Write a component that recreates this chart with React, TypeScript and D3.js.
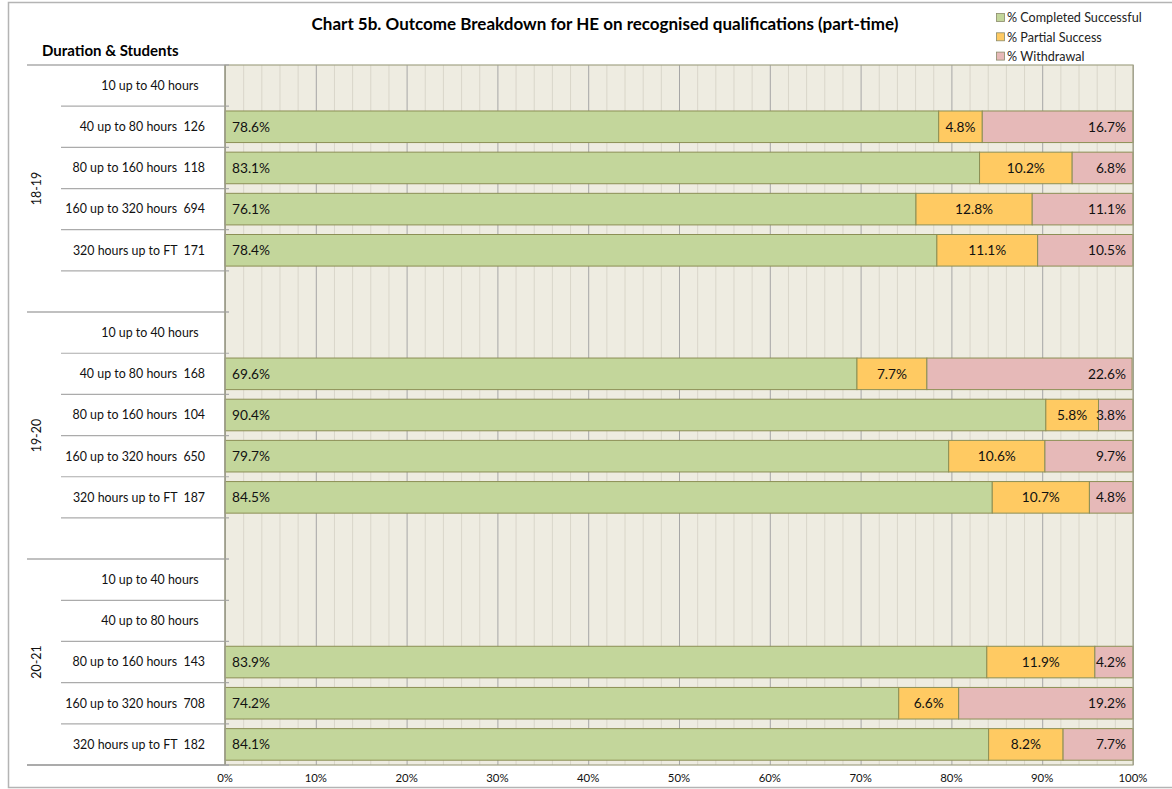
import * as d3 from "d3";
import { useEffect, useRef } from "react";

const groups = ["18-19", "19-20", "20-21"];
const durations = [
  "10 up to 40 hours",
  "40 up to 80 hours",
  "80 up to 160 hours",
  "160 up to 320 hours",
  "320 hours up to FT",
];
// student counts per group, in duration order (null = no learners)
const students = [
  [null, 126, 118, 694, 171],
  [null, 168, 104, 650, 187],
  [null, null, 143, 708, 182],
];
const completed = [
  [null, 78.6, 83.1, 76.1, 78.4],
  [null, 69.6, 90.4, 79.7, 84.5],
  [null, null, 83.9, 74.2, 84.1],
];
const partial = [
  [null, 4.8, 10.2, 12.8, 11.1],
  [null, 7.7, 5.8, 10.6, 10.7],
  [null, null, 11.9, 6.6, 8.2],
];
const withdrawal = [
  [null, 16.7, 6.8, 11.1, 10.5],
  [null, 22.6, 3.8, 9.7, 4.8],
  [null, null, 4.2, 19.2, 7.7],
];
const seriesNames = ["% Completed Successful", "% Partial Success", "% Withdrawal"];
const seriesColors = ["#C3D69B", "#FFCA62", "#E6B9B8"];
const xTicks = [0, 10, 20, 30, 40, 50, 60, 70, 80, 90, 100];

const FONT = "Lato, 'Open Sans', sans-serif";

const App = () => {
  const ref = useRef(null);

  useEffect(() => {
    const svg = d3.select(ref.current);
    svg.selectAll("*").remove();

    const W = 1172, H = 789;
    const left = 225, right = 1133, top = 65, bottom = 765;

    // build rows, with a blank spacer row between groups
    const rows = [];
    groups.forEach((g, gi) => {
      durations.forEach((d, di) => {
        const n = students[gi][di];
        rows.push({
          key: `${gi}-${di}`,
          group: gi,
          label: `${d}  ${n == null ? "" : n}`,
          vals: [completed[gi][di], partial[gi][di], withdrawal[gi][di]],
        });
      });
      if (gi < groups.length - 1) rows.push({ key: `gap${gi}`, group: gi, gap: true });
    });

    const pad = 0.233;
    const y = d3.scaleBand()
      .domain(rows.map(r => r.key))
      .range([top, bottom])
      .paddingInner(pad)
      .paddingOuter(pad / 2);
    const step = y.step();
    const x = d3.scaleLinear().domain([0, 100]).range([left, right]);

    svg.append("rect")
      .attr("x", 0).attr("y", 0).attr("width", W).attr("height", H)
      .attr("fill", "#fff");
    svg.append("rect")
      .attr("x", 8.5).attr("y", 2.5).attr("width", W).attr("height", 785)
      .attr("fill", "none").attr("stroke", "#b4b4b4").attr("stroke-width", 1.5);

    // title
    svg.append("text")
      .attr("x", 605).attr("y", 30)
      .attr("text-anchor", "middle")
      .attr("font-family", FONT).attr("font-weight", "bold").attr("font-size", 17)
      .text("Chart 5b. Outcome Breakdown for HE on recognised qualifications (part-time)");

    svg.append("text")
      .attr("x", 42).attr("y", 55.5)
      .attr("font-family", FONT).attr("font-weight", "bold").attr("font-size", 15)
      .text("Duration & Students");

    // legend
    const lg = svg.append("g");
    seriesNames.forEach((name, i) => {
      const ly = 18 + i * 19.3;
      lg.append("rect")
        .attr("x", 996.5).attr("y", ly - 4.5).attr("width", 8).attr("height", 8)
        .attr("fill", seriesColors[i]).attr("stroke", "#8a8a6a").attr("stroke-width", 0.8);
      lg.append("text")
        .attr("x", 1007).attr("y", ly)
        .attr("dy", "0.35em")
        .attr("font-family", FONT).attr("font-size", 12.6).attr("fill", "#222")
        .text(name);
    });

    // plot background + grid
    svg.append("rect")
      .attr("x", left).attr("y", top).attr("width", right - left).attr("height", bottom - top)
      .attr("fill", "#EEECE1");
    const minor = d3.range(0, 101, 2).filter(v => v % 10 !== 0);
    svg.append("g").selectAll("line").data(minor).enter().append("line")
      .attr("x1", d => x(d) + 0.5).attr("x2", d => x(d) + 0.5)
      .attr("y1", top).attr("y2", bottom)
      .attr("stroke", "#D9D6CA").attr("stroke-width", 1);
    svg.append("g").selectAll("line").data(xTicks).enter().append("line")
      .attr("x1", d => x(d) + 0.5).attr("x2", d => x(d) + 0.5)
      .attr("y1", top).attr("y2", bottom)
      .attr("stroke", "#A6A6A6").attr("stroke-width", 1);

    // bars
    const stack = rows.filter(r => !r.gap && r.vals[0] != null);
    const barG = svg.append("g");
    const labelG = svg.append("g")
      .attr("font-family", FONT).attr("font-size", 13.7).attr("fill", "#111");
    stack.forEach(r => {
      let acc = 0;
      const by = y(r.key);
      r.vals.forEach((v, i) => {
        const x0 = x(acc);
        const x1 = Math.min(x(acc + v), right);
        barG.append("rect")
          .attr("x", x0).attr("y", by)
          .attr("width", x1 - x0).attr("height", y.bandwidth())
          .attr("fill", seriesColors[i])
          .attr("stroke", "#8C8F55").attr("stroke-width", 1);
        const t = labelG.append("text")
          .attr("y", by + y.bandwidth() / 2)
          .attr("dy", "0.36em")
          .text(`${v.toFixed(1)}%`);
        if (i === 0) t.attr("x", x0 + 7).attr("text-anchor", "start");
        else if (i === 1) t.attr("x", (x0 + x1) / 2).attr("text-anchor", "middle");
        else t.attr("x", right - 7).attr("text-anchor", "end");
        acc += v;
      });
    });

    // plot border
    svg.append("rect")
      .attr("x", left).attr("y", top).attr("width", right - left).attr("height", bottom - top)
      .attr("fill", "none").attr("stroke", "#A3A486").attr("stroke-width", 1.2);

    // category axis: separators and labels
    const axisG = svg.append("g").attr("stroke", "#ABABAB");
    rows.forEach((r, i) => {
      const yb = y(r.key) - step * pad / 2;
      const groupStart = i === 0 || rows[i - 1].gap;
      axisG.append("line")
        .attr("x1", groupStart ? 27 : 61).attr("x2", 229)
        .attr("y1", yb).attr("y2", yb)
        .attr("stroke-width", groupStart ? 1.5 : 1.2);
    });
    axisG.append("line")
      .attr("x1", 27).attr("x2", 229).attr("y1", bottom).attr("y2", bottom)
      .attr("stroke-width", 2);
    axisG.append("line")
      .attr("x1", left).attr("x2", left).attr("y1", top).attr("y2", bottom)
      .attr("stroke", "#9a9a8a").attr("stroke-width", 1.2);

    svg.append("g")
      .attr("font-family", FONT).attr("font-size", 12.4).attr("fill", "#111")
      .selectAll("text")
      .data(rows.filter(r => !r.gap))
      .enter().append("text")
      .attr("x", 205)
      .attr("y", r => y(r.key) + y.bandwidth() / 2)
      .attr("dy", "0.35em")
      .attr("text-anchor", "end")
      .attr("xml:space", "preserve")
      .style("white-space", "pre")
      .text(r => r.label);

    // group labels
    groups.forEach((g, gi) => {
      const keys = rows.filter(r => r.group === gi).map(r => r.key);
      const y0 = y(keys[0]) - step * pad / 2;
      const y1 = y(keys[keys.length - 1]) + y.bandwidth() + step * pad / 2;
      const cy = (y0 + y1) / 2;
      svg.append("text")
        .attr("transform", `translate(37,${cy}) rotate(-90)`)
        .attr("text-anchor", "middle")
        .attr("dy", "0.35em")
        .attr("font-family", FONT).attr("font-size", 12.4).attr("fill", "#111")
        .text(g);
    });

    // value axis labels
    svg.append("g")
      .attr("font-family", FONT).attr("font-size", 11.4).attr("fill", "#111")
      .selectAll("text").data(xTicks).enter().append("text")
      .attr("x", d => x(d)).attr("y", 782)
      .attr("text-anchor", "middle")
      .text(d => `${d}%`);
  }, []);

  return (
    <svg
      ref={ref}
      width={1172}
      height={789}
      style={{ position: "absolute", left: 0, top: 0 }}
    />
  );
};

export default App;
